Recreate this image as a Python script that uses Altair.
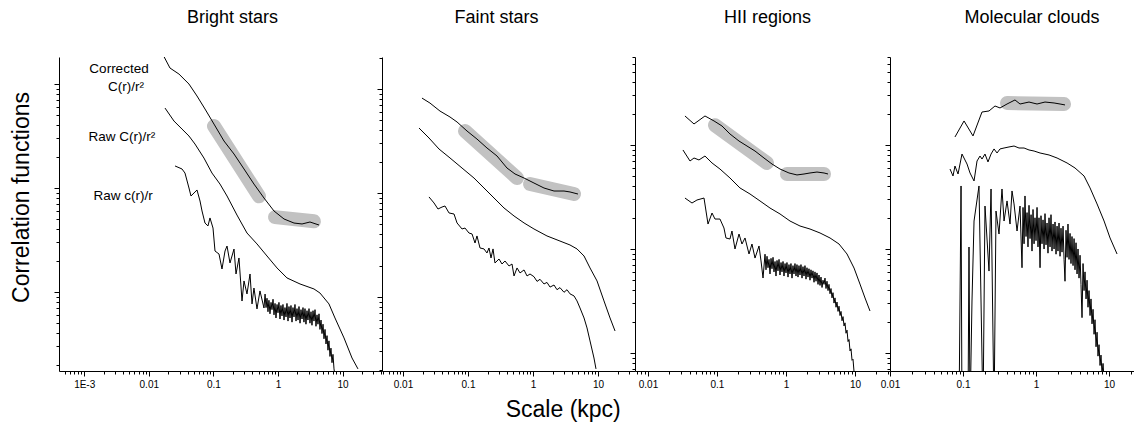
import altair as alt
import pandas as pd

FONT = "Liberation Sans"

# ---------------- text ----------------
panel_titles = ["Bright stars", "Faint stars", "HII regions", "Molecular clouds"]
curve_labels = ["Corrected", "C(r)/r\u00b2", "Raw C(r)/r\u00b2", "Raw c(r)/r"]
x_title = "Scale (kpc)"
y_title = "Correlation functions"
x_decade_exponents = [-3, -2, -1, 0, 1]
x_decade_labels = ["1E-3", "0.01", "0.1", "1", "10"]

# ---------------- data: log10(scale / kpc), log10(correlation, arbitrary units) ----------------
# Bright stars
bright_corr_lx = [-1.827, -1.672, -1.533, -1.378, -1.254, -1.130, -0.991, -0.836, -0.681, -0.526, -0.372, -0.217, -0.062, 0.093, 0.248, 0.372, 0.495, 0.635]
bright_corr_ly = [2.337, 2.154, 2.096, 2.000, 1.885, 1.760, 1.615, 1.452, 1.327, 1.183, 1.038, 0.904, 0.779, 0.702, 0.663, 0.654, 0.673, 0.644]
bright_raw2_lx = [-1.749, -1.610, -1.486, -1.378, -1.285, -1.146, -1.022, -0.898, -0.789, -0.635, -0.480, -0.325, -0.170, -0.015, 0.139, 0.341, 0.557, 0.650, 0.789, 0.882, 1.022, 1.146, 1.238]
bright_raw2_ly = [1.769, 1.644, 1.567, 1.500, 1.423, 1.288, 1.144, 1.038, 0.923, 0.740, 0.567, 0.462, 0.346, 0.231, 0.135, 0.077, 0.029, -0.010, -0.115, -0.250, -0.442, -0.635, -0.740]
bright_rawr_lx = [-1.594, -1.486, -1.440, -1.378, -1.347, -1.300, -1.254, -1.207, -1.176, -1.130, -1.084, -1.053, -1.006, -0.975, -0.913, -0.867, -0.820, -0.789, -0.743, -0.681, -0.650, -0.604, -0.557, -0.526, -0.480, -0.433, -0.402, -0.372, -0.325, -0.279, -0.217,
                  -0.200, -0.185, -0.170, -0.155, -0.140, -0.124, -0.108, -0.093, -0.077, -0.062, -0.046, -0.031, -0.015, 0.000, 0.015, 0.031, 0.046, 0.062, 0.077, 0.093, 0.108, 0.124, 0.139, 0.155, 0.170, 0.186, 0.201, 0.217, 0.232, 0.248, 0.263, 0.279, 0.294, 0.310, 0.325, 0.341, 0.356, 0.372, 0.387, 0.402, 0.418, 0.433, 0.449, 0.464, 0.480, 0.495, 0.511, 0.526, 0.542, 0.557, 0.573, 0.588, 0.604, 0.619, 0.635, 0.650, 0.666, 0.681, 0.697, 0.712, 0.728, 0.743, 0.759, 0.774, 0.789, 0.805, 0.820, 0.836, 0.851, 0.867, 0.882]
bright_rawr_ly = [1.212, 1.183, 1.144, 1.000, 0.923, 0.952, 0.981, 0.875, 0.779, 0.663, 0.635, 0.712, 0.615, 0.394, 0.365, 0.221, 0.394, 0.442, 0.279, 0.413, 0.173, 0.327, -0.087, 0.106, -0.019, 0.173, -0.115, 0.038, -0.163, 0.010, -0.154,
                  -0.02, -0.15, -0.06, -0.19, -0.08, -0.21, -0.10, -0.17, -0.07, -0.22, -0.11, -0.25, -0.12, -0.20, -0.10, -0.26, -0.13, -0.23, -0.12, -0.27, -0.15, -0.24, -0.11, -0.28, -0.14, -0.25, -0.13, -0.29, -0.15, -0.24, -0.12, -0.28, -0.16, -0.27, -0.14, -0.30, -0.17, -0.26, -0.15, -0.29, -0.16, -0.31, -0.18, -0.27, -0.16, -0.30, -0.19, -0.32, -0.18, -0.28, -0.17, -0.33, -0.22, -0.31, -0.21, -0.36, -0.27, -0.40, -0.31, -0.45, -0.36, -0.50, -0.42, -0.56, -0.47, -0.62, -0.54, -0.68, -0.60, -0.74, -0.80]
bright_band_lx = [[-0.991, -0.294], [-0.046, 0.557]]
bright_band_ly = [[1.596, 0.920], [0.720, 0.680]]

# Faint stars
faint_corr_lx = [-1.708, -1.585, -1.431, -1.277, -1.169, -1.015, -0.862, -0.708, -0.554, -0.400, -0.277, -0.138, 0.015, 0.169, 0.323, 0.477, 0.569, 0.692]
faint_corr_ly = [1.913, 1.865, 1.788, 1.731, 1.683, 1.596, 1.519, 1.433, 1.356, 1.240, 1.183, 1.144, 1.096, 1.048, 1.019, 1.019, 1.010, 0.990]
faint_raw2_lx = [-1.754, -1.600, -1.446, -1.277, -1.092, -0.908, -0.754, -0.600, -0.446, -0.292, -0.138, 0.015, 0.215, 0.415, 0.569, 0.677, 0.785, 0.877, 0.985, 1.092, 1.185, 1.262]
faint_raw2_ly = [1.625, 1.529, 1.423, 1.337, 1.240, 1.144, 1.048, 0.952, 0.856, 0.779, 0.712, 0.654, 0.587, 0.538, 0.500, 0.462, 0.394, 0.279, 0.154, -0.038, -0.202, -0.327]
faint_rawr_lx = [-1.600, -1.523, -1.462, -1.400, -1.354, -1.292, -1.215, -1.169, -1.092, -1.046, -0.985, -0.938, -0.892, -0.862, -0.815, -0.754, -0.708, -0.677, -0.646, -0.615, -0.585, -0.523, -0.477, -0.431, -0.369, -0.323, -0.292, -0.246, -0.200, -0.138, -0.092, -0.046, 0.015, 0.062, 0.108, 0.169, 0.215, 0.262, 0.323, 0.369, 0.415, 0.477, 0.523, 0.569, 0.631, 0.677, 0.723, 0.785, 0.831, 0.877, 0.938, 0.969]
faint_rawr_ly = [0.962, 0.904, 0.846, 0.865, 0.875, 0.808, 0.798, 0.712, 0.654, 0.663, 0.615, 0.606, 0.519, 0.587, 0.471, 0.462, 0.423, 0.471, 0.375, 0.462, 0.327, 0.365, 0.317, 0.346, 0.298, 0.317, 0.202, 0.279, 0.231, 0.260, 0.202, 0.221, 0.195, 0.150, 0.170, 0.125, 0.140, 0.095, 0.115, 0.070, 0.090, 0.045, 0.070, 0.030, 0.010, -0.038, -0.106, -0.202, -0.298, -0.423, -0.587, -0.692]
faint_band_lx = [[-1.046, -0.246], [-0.046, 0.631]]
faint_band_ly = [[1.596, 1.144], [1.087, 0.990]]

# HII regions
hii_corr_lx = [-1.464, -1.333, -1.174, -1.043, -0.928, -0.812, -0.681, -0.565, -0.449, -0.319, -0.203, -0.087, 0.043, 0.159, 0.261, 0.348, 0.449, 0.551, 0.609]
hii_corr_ly = [2.279, 2.202, 2.279, 2.231, 2.183, 2.106, 2.038, 1.990, 1.942, 1.875, 1.817, 1.769, 1.731, 1.712, 1.721, 1.731, 1.740, 1.731, 1.721]
hii_raw2_lx = [-1.493, -1.391, -1.333, -1.261, -1.174, -1.072, -0.957, -0.812, -0.667, -0.522, -0.377, -0.232, -0.087, 0.058, 0.203, 0.348, 0.493, 0.638, 0.768, 0.884, 0.986, 1.072, 1.145, 1.217]
hii_raw2_ly = [1.952, 1.846, 1.875, 1.856, 1.894, 1.827, 1.769, 1.683, 1.587, 1.529, 1.462, 1.394, 1.337, 1.269, 1.221, 1.192, 1.154, 1.106, 1.048, 0.952, 0.817, 0.663, 0.529, 0.404]
hii_rawr_lx = [-1.464, -1.362, -1.290, -1.188, -1.130, -1.072, -1.029, -0.957, -0.899, -0.870, -0.812, -0.783, -0.739, -0.681, -0.638, -0.594, -0.536, -0.493, -0.449, -0.391, -0.362, -0.333,
               -0.304, -0.290, -0.275, -0.261, -0.246, -0.232, -0.217, -0.203, -0.188, -0.174, -0.159, -0.145, -0.130, -0.116, -0.101, -0.087, -0.072, -0.058, -0.043, -0.029, -0.014, 0.000, 0.014, 0.029, 0.043, 0.058, 0.072, 0.087, 0.101, 0.116, 0.130, 0.145, 0.159, 0.174, 0.188, 0.203, 0.217, 0.232, 0.246, 0.261, 0.275, 0.290, 0.304, 0.319, 0.333, 0.348, 0.362, 0.377, 0.391, 0.406, 0.420, 0.435, 0.449, 0.464, 0.478, 0.493, 0.507, 0.522, 0.536,
               0.551, 0.565, 0.580, 0.594, 0.609, 0.623, 0.638, 0.652, 0.667, 0.681, 0.696, 0.710, 0.725, 0.739, 0.754, 0.768, 0.783, 0.797, 0.812, 0.826, 0.841, 0.855, 0.870, 0.884, 0.899, 0.913, 0.928, 0.942, 0.957, 0.971, 0.986]
hii_rawr_ly = [1.490, 1.442, 1.471, 1.490, 1.240, 1.346, 1.288, 1.288, 1.202, 1.106, 1.096, 1.173, 1.000, 1.144, 1.048, 1.106, 0.952, 1.048, 0.913, 1.029, 0.885, 0.721,
               0.95, 0.80, 0.93, 0.82, 0.90, 0.76, 0.91, 0.81, 0.92, 0.78, 0.88, 0.74, 0.89, 0.79, 0.90, 0.75, 0.87, 0.78, 0.88, 0.74, 0.86, 0.77, 0.87, 0.73, 0.85, 0.76, 0.86, 0.72, 0.84, 0.76, 0.86, 0.74, 0.85, 0.73, 0.84, 0.75, 0.85, 0.72, 0.83, 0.74, 0.84, 0.71, 0.82, 0.73, 0.81, 0.70, 0.80, 0.72, 0.79, 0.68, 0.78, 0.69, 0.77, 0.66, 0.75, 0.65, 0.73, 0.63, 0.70,
               0.66, 0.72, 0.62, 0.69, 0.60, 0.66, 0.57, 0.62, 0.53, 0.58, 0.48, 0.53, 0.44, 0.49, 0.40, 0.45, 0.36, 0.40, 0.31, 0.35, 0.26, 0.29, 0.19, 0.22, 0.11, 0.13, 0.02, 0.04, -0.07, -0.06, -0.18]
hii_band_lx = [[-1.029, -0.275], [0.014, 0.551]]
hii_band_ly = [[2.190, 1.827], [1.721, 1.721]]

# Molecular clouds
mol_corr_lx = [-1.110, -0.986, -0.863, -0.740, -0.644, -0.562, -0.493, -0.397, -0.288, -0.219, -0.096, 0.014, 0.123, 0.247, 0.329, 0.397]
mol_corr_ly = [2.077, 2.231, 2.087, 2.317, 2.327, 2.375, 2.356, 2.394, 2.433, 2.394, 2.413, 2.394, 2.413, 2.404, 2.394, 2.385]
mol_raw2_lx = [-1.178, -1.137, -1.110, -1.068, -1.014, -0.945, -0.904, -0.849, -0.808, -0.767, -0.740, -0.699, -0.658, -0.616, -0.575, -0.534, -0.493, -0.438, -0.370, -0.301, -0.233, -0.164, -0.096, -0.027, 0.055, 0.178, 0.288, 0.425, 0.534, 0.658, 0.740, 0.836, 0.932, 1.014, 1.110]
mol_raw2_ly = [1.769, 1.702, 1.798, 1.721, 1.913, 1.817, 1.731, 1.654, 1.846, 1.894, 1.865, 1.913, 1.837, 1.913, 1.962, 1.923, 1.962, 1.971, 1.981, 1.990, 1.971, 1.971, 1.952, 1.942, 1.923, 1.904, 1.875, 1.827, 1.779, 1.702, 1.587, 1.433, 1.269, 1.106, 0.952]
mol_rawr_lx = [-1.055, -1.027, -1.014, -0.932, -0.918, -0.904, -0.877, -0.849, -0.781, -0.726, -0.699, -0.644, -0.616, -0.575, -0.548, -0.507, -0.466, -0.438, -0.397, -0.356, -0.329, -0.301, -0.260, -0.219,
               -0.192, -0.178, -0.164, -0.151, -0.137, -0.123, -0.110, -0.096, -0.082, -0.068, -0.055, -0.041, -0.027, -0.014, 0.000, 0.014, 0.027, 0.041, 0.055, 0.068, 0.082, 0.096, 0.110, 0.123, 0.137, 0.151, 0.164, 0.178, 0.192, 0.205, 0.219, 0.233, 0.247, 0.260, 0.274, 0.288, 0.301, 0.315, 0.329, 0.342, 0.356, 0.370, 0.384, 0.397, 0.411, 0.425, 0.438, 0.452, 0.466, 0.479, 0.493, 0.507, 0.521, 0.534, 0.548, 0.562, 0.575, 0.589, 0.603, 0.616, 0.630, 0.644, 0.658, 0.671, 0.685, 0.699, 0.712, 0.726, 0.740, 0.753, 0.767, 0.781, 0.795, 0.808, 0.822, 0.836, 0.849, 0.863, 0.877, 0.890, 0.904, 0.918, 0.932]
mol_rawr_ly = [-0.6, 1.606, -0.6, -0.6, 1.019, -0.6, 0.5, 1.269, 1.606, -0.6, 1.413, 0.788, 1.577, -0.6, 1.365, 1.144, 1.577, 1.269, 1.462, 1.240, 1.558, 1.433, 1.173, 1.413,
               0.82, 1.40, 1.05, 1.51, 1.12, 1.35, 1.02, 1.42, 1.10, 1.33, 0.98, 1.38, 1.05, 1.30, 1.08, 1.40, 1.02, 1.30, 0.82, 1.32, 1.05, 1.28, 1.00, 1.34, 1.04, 1.25, 0.96, 1.30, 1.02, 1.33, 0.98, 1.24, 1.00, 1.26, 0.95, 1.22, 0.98, 1.25, 0.93, 1.20, 0.97, 1.22, 0.90, 0.69, 1.18, 0.92, 1.24, 0.90, 1.15, 0.86, 1.12, 0.84, 1.10, 0.80, 1.06, 0.76, 1.00, 0.72, 0.94, 0.66, 0.34, 0.86, 0.60, 0.78, 0.52, 0.70, 0.44, 0.60, 0.36, 0.52, 0.28, 0.42, 0.18, 0.32, 0.06, 0.20, -0.03, 0.08, -0.12, -0.02, -0.20, -0.10, -0.25]
mol_band_lx = [[-0.397, 0.384]]
mol_band_ly = [[2.404, 2.394]]

# curve labels (panel 1), log10 positions
label_lx = [-2.461, -2.353, -2.415, -2.399]
label_ly = [2.144, 1.971, 1.490, 0.923]

# axis ranges (log10) per panel
x_ranges = [(-3.390, 1.610), (-2.323, 1.569), (-2.188, 1.507), (-2.000, 1.342)]
y_ranges = [(-0.760, 2.260), (-0.712, 2.308), (-0.173, 2.846), (-0.173, 2.846)]
widths = [323, 253, 255, 244]
title_dx = [12, -12, 5, 20]
HEIGHT = 314

MAJOR = "abs(log(datum.value)/LN10-round(log(datum.value)/LN10))<0.001"
tick_size = {"condition": {"test": MAJOR, "value": 5}, "value": 3}


def tick_values(lo, hi):
    vals = []
    for d in range(-5, 5):
        for m in range(1, 10):
            v = m * 10.0 ** d
            if 10 ** lo <= v <= 10 ** hi:
                vals.append(v)
    return vals


def label_expr():
    parts = []
    for e, lab in zip(x_decade_exponents, x_decade_labels):
        parts.append(f"abs(datum.value/{10.0 ** e!r}-1)<1e-6?'{lab}':")
    return "".join(parts) + "''"


def make_panel(k, curves, bands, texts=None):
    xr, yr = x_ranges[k], y_ranges[k]
    rows = []
    for name, (lxs, lys) in curves.items():
        for i, (a, b) in enumerate(zip(lxs, lys)):
            rows.append({"x": 10 ** a, "y": 10 ** b, "series": name, "i": i})
    df = pd.DataFrame(rows)
    brows = []
    for s, (lxs, lys) in enumerate(zip(*bands)):
        for a, b in zip(lxs, lys):
            brows.append({"x": 10 ** a, "y": 10 ** b, "seg": s})
    bdf = pd.DataFrame(brows)

    xscale = alt.Scale(type="log", domain=[10 ** xr[0], 10 ** xr[1]], nice=False)
    yscale = alt.Scale(type="log", domain=[10 ** yr[0], 10 ** yr[1]], nice=False)
    xaxis = alt.Axis(values=tick_values(*xr), labelExpr=label_expr(), tickSize=tick_size,
                     grid=False, title=None, labelOverlap=False, labelFlush=False,
                     labelFontSize=10, labelPadding=3)
    if k == 0:
        yaxis = alt.Axis(values=tick_values(*yr), labels=False, tickSize=tick_size, grid=False,
                         title=y_title, titleFontSize=23, titleFont=FONT, titleFontWeight="normal",
                         titlePadding=20, titleY=140)
    else:
        yaxis = alt.Axis(values=tick_values(*yr), labels=False, tickSize=tick_size, grid=False,
                         title=None)
    X = alt.X("x:Q", scale=xscale, axis=xaxis)
    Y = alt.Y("y:Q", scale=yscale, axis=yaxis)

    band_layer = alt.Chart(bdf).mark_line(color="#c2c2c2", strokeWidth=14, strokeCap="round",
                                          clip=True).encode(x=X, y=Y, detail="seg:N")
    line_layer = alt.Chart(df).mark_line(color="black", strokeWidth=1, clip=True).encode(
        x=X, y=Y, detail="series:N", order="i:Q")
    layers = [band_layer, line_layer]
    if texts is not None:
        tdf = pd.DataFrame({"x": [10 ** v for v in texts[0]], "y": [10 ** v for v in texts[1]],
                            "label": texts[2]})
        layers.append(alt.Chart(tdf).mark_text(font=FONT, fontSize=13.5, color="black").encode(
            x=X, y=Y, text="label:N"))
    return alt.layer(*layers).properties(
        width=widths[k], height=HEIGHT,
        title=alt.TitleParams(panel_titles[k], fontSize=18, font=FONT, fontWeight="normal",
                              anchor="middle", dx=title_dx[k], offset=30))


p1 = make_panel(0, {"corr": (bright_corr_lx, bright_corr_ly), "raw2": (bright_raw2_lx, bright_raw2_ly),
                    "rawr": (bright_rawr_lx, bright_rawr_ly)}, (bright_band_lx, bright_band_ly),
                texts=(label_lx, label_ly, curve_labels))
p2 = make_panel(1, {"corr": (faint_corr_lx, faint_corr_ly), "raw2": (faint_raw2_lx, faint_raw2_ly),
                    "rawr": (faint_rawr_lx, faint_rawr_ly)}, (faint_band_lx, faint_band_ly))
p3 = make_panel(2, {"corr": (hii_corr_lx, hii_corr_ly), "raw2": (hii_raw2_lx, hii_raw2_ly),
                    "rawr": (hii_rawr_lx, hii_rawr_ly)}, (hii_band_lx, hii_band_ly))
p4 = make_panel(3, {"corr": (mol_corr_lx, mol_corr_ly), "raw2": (mol_raw2_lx, mol_raw2_ly),
                    "rawr": (mol_rawr_lx, mol_rawr_ly)}, (mol_band_lx, mol_band_ly))

chart = alt.hconcat(p1, p2, p3, p4, spacing=0, bounds="flush").properties(
    title=alt.TitleParams(x_title, orient="bottom", anchor="middle", fontSize=23, font=FONT,
                          fontWeight="normal", offset=10, dx=-9),
    padding={"left": 2, "top": 0, "right": 0, "bottom": 0},
).configure_view(stroke=None).configure_axis(
    domainColor="black", tickColor="black", labelColor="black", labelFont=FONT,
    domainWidth=1, tickWidth=1, titleColor="black"
).configure_title(color="black")

chart.save("out.html", embed_options={"renderer": "svg", "actions": False})
